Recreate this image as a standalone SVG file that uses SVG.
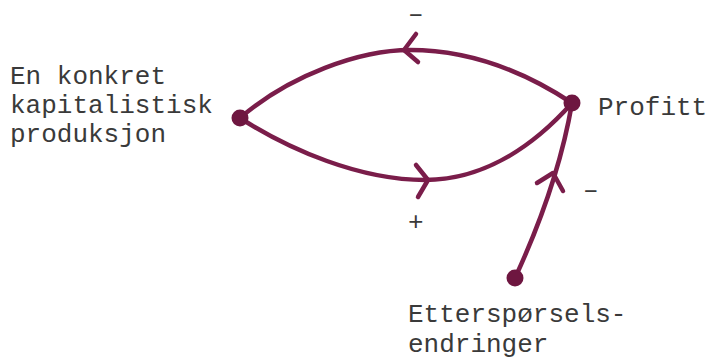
<svg xmlns="http://www.w3.org/2000/svg" width="711" height="363" viewBox="0 0 711 363">
<style>
.t{font-family:"Liberation Mono","Courier New",monospace;font-size:26px;fill:#3a3a3a}
.e{fill:none;stroke:#7a1d4a;stroke-width:4.5;stroke-linecap:round;stroke-linejoin:round}
.n{fill:#6e1640}
</style>
<rect width="711" height="363" fill="#fff"/>
<g id="connectors">
<path class="e" d="M240,118 C290,75 360,50 410,50 C470,50 525,72 572,103"/>
<path class="e" d="M416,34 L404,50 L418,62"/>
<path class="e" d="M240,118 C290,150 360,180 425,180 C480,180 530,150 572,103"/>
<path class="e" d="M416,165 L428,180 L418,197"/>
<path class="e" d="M515,278 Q558,185 572,103"/>
<path class="e" d="M537,183 L553,173 L563,191"/>
<text class="t" x="408" y="22">–</text>
<text class="t" x="408" y="230">+</text>
<text class="t" x="583" y="198">–</text>
</g>
<g id="node-produksjon">
<circle class="n" cx="240" cy="118" r="8.5"/>
<text class="t" x="10" y="84">En konkret</text>
<text class="t" x="10" y="113">kapitalistisk</text>
<text class="t" x="10" y="142">produksjon</text>
</g>
<g id="node-profitt">
<circle class="n" cx="572" cy="103" r="8.5"/>
<text class="t" x="598" y="115">Profitt</text>
</g>
<g id="node-ettersporsel">
<circle class="n" cx="515" cy="278" r="8.5"/>
<text class="t" x="408" y="322">Etterspørsels-</text>
<text class="t" x="408" y="352">endringer</text>
</g>
</svg>
